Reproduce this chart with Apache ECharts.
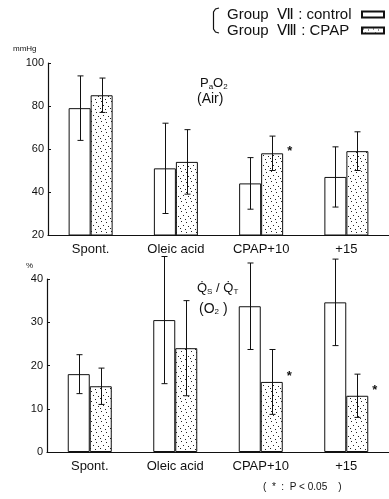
<!DOCTYPE html>
<html><head><meta charset="utf-8">
<script src="https://cdn.jsdelivr.net/npm/echarts@6/dist/echarts.min.js"></script>
<style>html,body{margin:0;padding:0;background:#fff}#c{width:389px;height:499px}</style>
</head><body><div id="c"></div>
<script>
const categories = ['Spont.', 'Oleic acid', 'CPAP+10', '+15'];
const seriesNames = ['Group  Ⅶ : control', 'Group  Ⅷ : CPAP'];
// PaO2 (Air), mmHg
const pao2Control = [79, 51, 44, 47];
const pao2ControlSD = [15, 21, 12, 14];
const pao2Cpap = [85, 54, 58, 59];
const pao2CpapSD = [8, 15, 8, 9];
const pao2Sig = [false, false, true, false];
// Qs/Qt (O2), %
const qsControl = [18, 30.5, 33.7, 34.6];
const qsControlSD = [4.5, 14.7, 10, 10];
const qsCpap = [15.2, 24, 16.2, 13];
const qsCpapSD = [4.2, 11, 7.5, 5];
const qsSig = [false, false, true, true];
const pao2Ticks = [20, 40, 60, 80, 100];
const qsTicks = [0, 10, 20, 30, 40];

const ink = '#111';
function dotPattern() {
  const c = document.createElement('canvas');
  c.width = 10; c.height = 10;
  const g = c.getContext('2d');
  g.fillStyle = '#fff'; g.fillRect(0, 0, 10, 10);
  g.fillStyle = '#222';
  [[1,1],[6,2],[3,5],[8,6],[0,8],[5,9]].forEach(p => g.fillRect(p[0], p[1], 1, 1));
  return c;
}
const pat = { image: dotPattern(), repeat: 'repeat' };
const BW = 22;

function errSeries(xi, yi, means, sds, sign) {
  return {
    type: 'custom', xAxisIndex: xi, yAxisIndex: yi, z: 5, silent: true,
    data: means.map((m, i) => [i, m, sds[i]]),
    renderItem: function (params, api) {
      const i = api.value(0), m = api.value(1), s = api.value(2);
      const top = api.coord([i, m + s]);
      const bot = api.coord([i, m - s]);
      const x = Math.round(top[0] + sign * BW / 2) + 0.5;
      const st = { stroke: ink, lineWidth: 1 };
      return { type: 'group', children: [
        { type: 'line', shape: { x1: x, y1: top[1], x2: x, y2: bot[1] }, style: st },
        { type: 'line', shape: { x1: x - 3, y1: top[1], x2: x + 3, y2: top[1] }, style: st },
        { type: 'line', shape: { x1: x - 3, y1: bot[1], x2: x + 3, y2: bot[1] }, style: st }
      ]};
    }
  };
}
function barData(vals, sig, ox, oy) {
  return vals.map((v, i) => sig[i] ? { value: v, label: { show: true, formatter: '*', position: [ox, oy], fontSize: 13, fontWeight: 'bold', color: ink } } : v);
}
function barSeries(name, xi, yi, vals, sig, color, ox, oy) {
  return {
    name: name, type: 'bar', xAxisIndex: xi, yAxisIndex: yi, barWidth: BW, barGap: '0%',
    itemStyle: { color: color, borderColor: ink, borderWidth: 1 },
    data: sig ? barData(vals, sig, ox, oy) : vals
  };
}
const catLabel = { fontSize: 13, color: ink, fontFamily: 'Liberation Sans', margin: 8 };
const yLabel = { fontSize: 11, color: ink, fontFamily: 'Liberation Sans', margin: 4 };
function xAx(gi) {
  return { gridIndex: gi, type: 'category', data: categories,
    axisLine: { lineStyle: { color: ink, width: 1.2 } }, axisTick: { show: false },
    axisLabel: catLabel };
}
function yAx(gi, ticks) {
  return { gridIndex: gi, type: 'value', min: ticks[0], max: ticks[ticks.length - 1], interval: ticks[1] - ticks[0],
    axisLine: { show: true, lineStyle: { color: ink, width: 1.2 } },
    axisTick: { show: true, inside: true, length: 3, lineStyle: { color: ink } },
    splitLine: { show: false }, axisLabel: yLabel };
}
const chart = echarts.init(document.getElementById('c'), null, { renderer: 'canvas' });
chart.setOption({
  animation: false,
  backgroundColor: '#fff',
  textStyle: { fontFamily: 'Liberation Sans' },
  grid: [
    { left: 48, top: 63, width: 347, height: 172 },
    { left: 47, top: 279, width: 348, height: 173 }
  ],
  xAxis: [xAx(0), xAx(1)],
  yAxis: [yAx(0, pao2Ticks), yAx(1, qsTicks)],
  legend: {
    data: seriesNames, orient: 'vertical', right: 4, top: 7, align: 'right', padding: 0,
    icon: 'rect', itemWidth: 22, itemHeight: 6, itemGap: 1,
    formatter: function (n) { return '{t|' + n + '}'; },
    textStyle: { fontSize: 15, color: ink, fontFamily: 'Liberation Sans',
      rich: { t: { width: 130, align: 'left', fontSize: 15, color: ink, fontFamily: 'Liberation Sans' } } }
  },
  series: [
    barSeries(seriesNames[0], 0, 0, pao2Control, null, '#fff'),
    barSeries(seriesNames[1], 0, 0, pao2Cpap, pao2Sig, pat, 26, -8),
    errSeries(0, 0, pao2Control, pao2ControlSD, -1),
    errSeries(0, 0, pao2Cpap, pao2CpapSD, 1),
    barSeries(seriesNames[0], 1, 1, qsControl, null, '#fff'),
    barSeries(seriesNames[1], 1, 1, qsCpap, qsSig, pat, 26, -12),
    errSeries(1, 1, qsControl, qsControlSD, -1),
    errSeries(1, 1, qsCpap, qsCpapSD, 1)
  ],
  graphic: [
    { type: 'polyline', shape: { points: [[219, 8], [215.5, 9], [213.5, 12], [213.5, 29], [215.5, 32], [219, 33]] }, style: { fill: null, stroke: ink, lineWidth: 1.2 } },
    { type: 'text', left: 13, top: 45, style: { text: 'mmHg', fontSize: 8, fill: ink } },
    { type: 'text', left: 26, top: 262, style: { text: '%', fontSize: 8, fill: ink } },
    { type: 'text', left: 200, top: 77, style: { text: 'P{s|a}O{s|2}', fontSize: 13, fill: ink, rich: { s: { fontSize: 8, fill: ink, padding: [6, 0, 0, 0] } } } },
    { type: 'text', left: 197, top: 92, style: { text: '(Air)', fontSize: 14, fill: ink } },
    { type: 'text', left: 197, top: 282, style: { text: 'Q\u0307{s|S} / Q\u0307{s|T}', fontSize: 13, fill: ink, rich: { s: { fontSize: 8, fill: ink, padding: [6, 0, 0, 0] } } } },
    { type: 'text', left: 199, top: 302, style: { text: '(O{s|2} )', fontSize: 14, fill: ink, rich: { s: { fontSize: 8, fill: ink, padding: [6, 0, 0, 0] } } } },
    { type: 'text', left: 263, top: 482, style: { text: '(  *  :  P < 0.05    )', fontSize: 10, fill: ink } }
  ]
});
</script></body></html>
